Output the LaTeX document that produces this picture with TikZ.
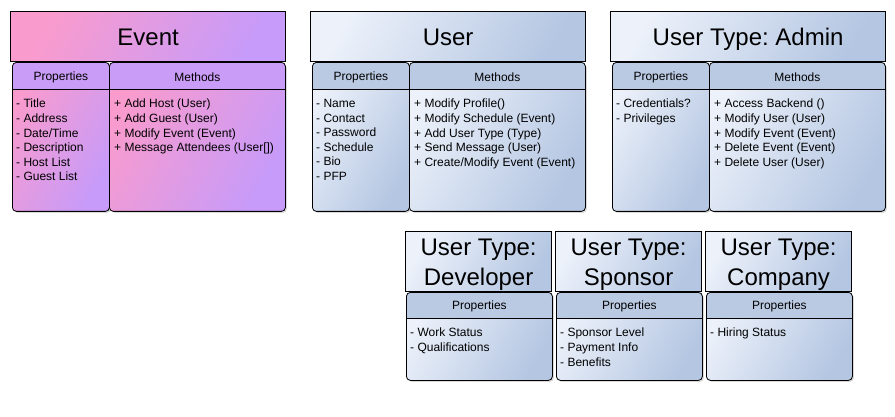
\documentclass[tikz,border=0pt]{standalone}
\usepackage{fontspec}
\setmainfont{Liberation Sans}
\usetikzlibrary{shadows}

\definecolor{evpink}{RGB}{250,155,205}
\definecolor{evpurple}{RGB}{198,155,250}
\definecolor{evhead}{RGB}{201,156,247}
\definecolor{uslight}{RGB}{236,241,250}
\definecolor{usdark}{RGB}{180,198,226}
\definecolor{ushead}{RGB}{186,202,227}

\tikzset{
  classtitle/.style={draw, line width=1.2pt, inner sep=0pt, anchor=north west,
    font=\fontsize{24}{29.5}\selectfont, align=center},
  pinkshade/.style={left color=evpink, right color=evpurple, shading angle=60},
  blueshade/.style={left color=uslight, right color=usdark, shading angle=60},
  classcol/.style 2 args={draw, line width=0.8pt, rounded corners=4pt, inner sep=0pt,
    anchor=north west,
    drop shadow={shadow xshift=1.5pt, shadow yshift=-1.5pt, opacity=0.3},
    path picture={
      \fill[#1, sharp corners] (path picture bounding box.north west)
        rectangle ([yshift=-#2pt]path picture bounding box.north east);
      \draw[line width=0.8pt, sharp corners] ([yshift=-#2pt]path picture bounding box.north west)
        -- ([yshift=-#2pt]path picture bounding box.north east);}},
  colhead/.style={inner sep=0pt, font=\fontsize{12}{14.6}\selectfont},
  collist/.style={inner sep=0pt, anchor=north west, align=left,
    font=\fontsize{12}{14.6}\selectfont},
}

\begin{document}
\frenchspacing
\begin{tikzpicture}[x=1pt, y=-1pt]
\useasboundingbox (0,0) rectangle (895,417);

% Event
\node[classtitle, pinkshade, minimum width=275pt, minimum height=50pt, text height=17pt, text depth=0pt] (event) at (10,11) {Event};
\node[classcol={evhead}{27}, pinkshade, minimum width=97pt, minimum height=149pt] (eventprops) at (12,62) {};
\node[classcol={evhead}{27}, pinkshade, minimum width=176pt, minimum height=149pt] (eventmeth) at (109,62) {};
\node[colhead] (eventpropshead) at ([yshift=-15pt]eventprops.north) {Properties};
\node[colhead] (eventmethhead) at ([yshift=-15pt]eventmeth.north) {Methods};
\node[collist] (eventpropslist) at ([xshift=4pt, yshift=-37pt]eventprops.north west)
  {- Title\\- Address\\- Date/Time\\- Description\\- Host List\\- Guest List};
\node[collist] (eventmethlist) at ([xshift=5pt, yshift=-37pt]eventmeth.north west)
  {+ Add Host (User)\\+ Add Guest (User)\\+ Modify Event (Event)\\+ Message Attendees (User[])};

% User
\node[classtitle, blueshade, minimum width=275pt, minimum height=50pt, text height=17pt, text depth=0pt] (user) at (310,11) {User};
\node[classcol={ushead}{27}, blueshade, minimum width=97pt, minimum height=149pt] (userprops) at (312,62) {};
\node[classcol={ushead}{27}, blueshade, minimum width=176pt, minimum height=149pt] (usermeth) at (409,62) {};
\node[colhead] (userpropshead) at ([yshift=-15pt]userprops.north) {Properties};
\node[colhead] (usermethhead) at ([yshift=-15pt]usermeth.north) {Methods};
\node[collist] (userpropslist) at ([xshift=4pt, yshift=-37pt]userprops.north west)
  {- Name\\- Contact\\- Password\\- Schedule\\- Bio\\- PFP};
\node[collist] (usermethlist) at ([xshift=5pt, yshift=-37pt]usermeth.north west)
  {+ Modify Profile()\\+ Modify Schedule (Event)\\+ Add User Type (Type)\\+ Send Message (User)\\+ Create/Modify Event (Event)};

% User Type: Admin
\node[classtitle, blueshade, minimum width=275pt, minimum height=50pt, text height=17pt, text depth=0pt] (admin) at (610,11) {User Type: Admin};
\node[classcol={ushead}{27}, blueshade, minimum width=97pt, minimum height=149pt] (adminprops) at (612,62) {};
\node[classcol={ushead}{27}, blueshade, minimum width=176pt, minimum height=149pt] (adminmeth) at (709,62) {};
\node[colhead] (adminpropshead) at ([yshift=-15pt]adminprops.north) {Properties};
\node[colhead] (adminmethhead) at ([yshift=-15pt]adminmeth.north) {Methods};
\node[collist] (adminpropslist) at ([xshift=4pt, yshift=-37pt]adminprops.north west)
  {- Credentials?\\- Privileges};
\node[collist] (adminmethlist) at ([xshift=5pt, yshift=-37pt]adminmeth.north west)
  {+ Access Backend ()\\+ Modify User (User)\\+ Modify Event (Event)\\+ Delete Event (Event)\\+ Delete User (User)};

% User Type: Developer
\node[classtitle, blueshade, minimum width=146pt, minimum height=60pt] (dev) at (405,231) {\rule{0pt}{23pt}User Type:\\Developer};
\node[classcol={ushead}{26}, blueshade, minimum width=146pt, minimum height=88pt] (devprops) at (406,292) {};
\node[colhead] (devpropshead) at ([yshift=-14.5pt]devprops.north) {Properties};
\node[collist] (devpropslist) at ([xshift=4pt, yshift=-36pt]devprops.north west)
  {- Work Status\\- Qualifications};

% User Type: Sponsor
\node[classtitle, blueshade, minimum width=146pt, minimum height=60pt] (sponsor) at (555,231) {\rule{0pt}{23pt}User Type:\\Sponsor};
\node[classcol={ushead}{26}, blueshade, minimum width=146pt, minimum height=88pt] (sponsorprops) at (556,292) {};
\node[colhead] (sponsorpropshead) at ([yshift=-14.5pt]sponsorprops.north) {Properties};
\node[collist] (sponsorpropslist) at ([xshift=4pt, yshift=-36pt]sponsorprops.north west)
  {- Sponsor Level\\- Payment Info\\- Benefits};

% User Type: Company
\node[classtitle, blueshade, minimum width=146pt, minimum height=60pt] (company) at (705,231) {\rule{0pt}{23pt}User Type:\\Company};
\node[classcol={ushead}{26}, blueshade, minimum width=146pt, minimum height=88pt] (companyprops) at (706,292) {};
\node[colhead] (companypropshead) at ([yshift=-14.5pt]companyprops.north) {Properties};
\node[collist] (companypropslist) at ([xshift=4pt, yshift=-36pt]companyprops.north west)
  {- Hiring Status};

\end{tikzpicture}
\end{document}
